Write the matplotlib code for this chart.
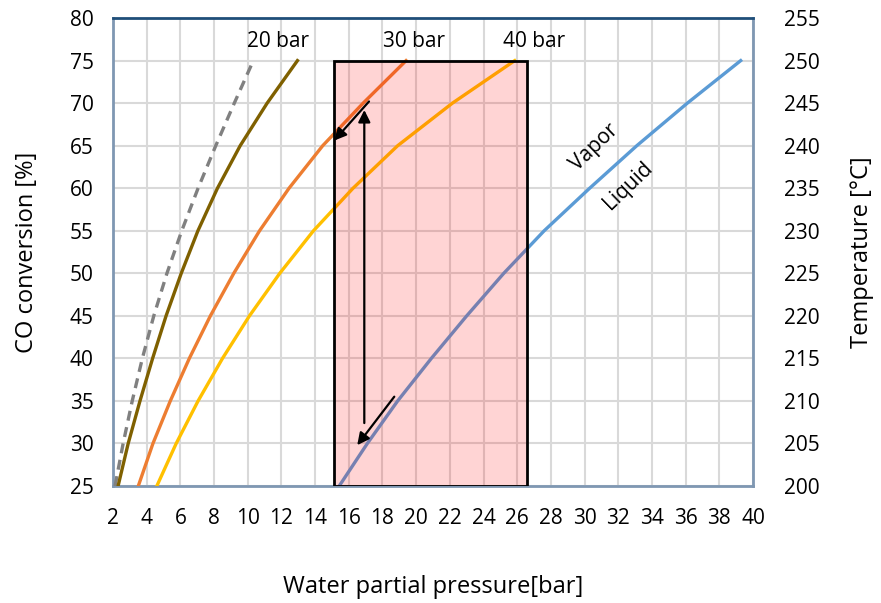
import matplotlib
matplotlib.use("Agg")
import matplotlib.pyplot as plt
from matplotlib.patches import Rectangle

plt.rcParams.update({
    "font.family": ["Open Sans", "DejaVu Sans"],
    "font.size": 15,
})

# CO conversion [%] (y) vs water partial pressure [bar] (x)
conv = [25, 30, 35, 40, 45, 50, 55, 60, 65, 70, 75]
x_eq = [2.12, 2.6, 3.14, 3.74, 4.42, 5.2, 6.08, 7.05, 8.1, 9.2, 10.33]
x_20bar = [2.3, 2.9, 3.6, 4.35, 5.15, 6.05, 7.04, 8.2, 9.55, 11.15, 12.95]
x_30bar = [3.5, 4.37, 5.4, 6.53, 7.78, 9.17, 10.7, 12.45, 14.45, 16.85, 19.4]
x_40bar = [4.6, 5.75, 7.05, 8.5, 10.1, 11.9, 13.9, 16.25, 18.9, 22.15, 25.85]
x_sat = [15.43, 17.1, 18.9, 20.9, 23.0, 25.2, 27.6, 30.3, 33.1, 36.1, 39.27]

series_colors = ["#7f6000", "#ed7d31", "#ffc000"]
bar_labels = ["20 bar", "30 bar", "40 bar"]
bar_label_x = [11.8, 19.9, 27.0]

# operating window
win_x = (15.1, 26.6)
win_y = (25, 75)

fig = plt.figure(figsize=(8.81, 6.03), dpi=100, facecolor="white")
ax = fig.add_axes([0.1283, 0.194, 0.7264, 0.776])

ax.plot(x_eq, conv, color="#808080", lw=2.4, ls=(0, (3, 2)), zorder=3)
for xs, c in zip([x_20bar, x_30bar, x_40bar], series_colors):
    ax.plot(xs, conv, color=c, lw=2.4, zorder=3, solid_joinstyle="round")
ax.plot(x_sat, conv, color="#5b9bd5", lw=2.4, zorder=3, solid_joinstyle="round")

ax.add_patch(Rectangle((win_x[0], win_y[0]), win_x[1] - win_x[0], win_y[1] - win_y[0],
                       facecolor=(1, 0, 0, 0.17), edgecolor="black", lw=2, zorder=4))

arrow = dict(arrowstyle="-|>", color="black", lw=1.6, mutation_scale=18, shrinkA=0, shrinkB=0)
ax.annotate("", xy=(15.13, 65.6), xytext=(17.2, 70.2), arrowprops=arrow, zorder=5)
ax.annotate("", xy=(16.92, 69.2), xytext=(16.92, 32.4), arrowprops=arrow, zorder=5)
ax.annotate("", xy=(16.5, 29.8), xytext=(18.7, 35.5), arrowprops=arrow, zorder=5)

for lab, lx in zip(bar_labels, bar_label_x):
    ax.text(lx, 77.3, lab, ha="center", va="center", fontsize=15)
ax.text(30.6, 64.8, "Vapor", rotation=44, ha="center", va="center", fontsize=15)
ax.text(32.6, 60.3, "Liquid", rotation=44, ha="center", va="center", fontsize=15)

ax.set_xlim(2, 40)
ax.set_ylim(25, 80)
ax.set_xticks(range(2, 41, 2))
ax.set_yticks(range(25, 81, 5))
ax.grid(True, color="#d9d9d9", lw=1.5, zorder=0)
ax.set_axisbelow(True)
ax.tick_params(length=0, labelsize=15)
ax.tick_params(axis="x", pad=16)
ax.tick_params(axis="y", pad=14)
for s in ["left", "right", "bottom"]:
    ax.spines[s].set_color("#7f97b2")
    ax.spines[s].set_linewidth(2)
ax.spines["top"].set_color("#1f4e79")
ax.spines["top"].set_linewidth(2)

ax.set_xlabel("Water partial pressure[bar]", fontsize=17, labelpad=33)
ax.set_ylabel("CO conversion [%]", fontsize=17, labelpad=22)

ax2 = ax.twinx()
ax2.set_ylim(200, 255)
ax2.set_yticks(range(200, 256, 5))
ax2.tick_params(length=0, labelsize=15, pad=22)
for s in ax2.spines.values():
    s.set_visible(False)
ax2.set_ylabel("Temperature [°C]", fontsize=17, labelpad=22)

fig.savefig("out.png", dpi=100, facecolor="white")
